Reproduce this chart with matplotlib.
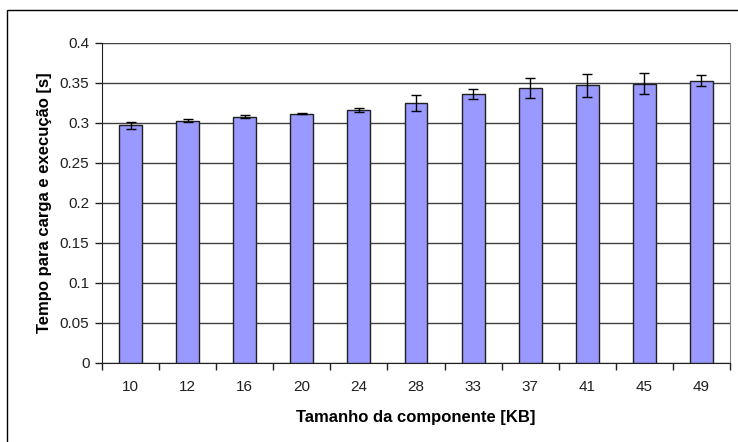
import matplotlib
matplotlib.use("Agg")
import matplotlib.pyplot as plt
import numpy as np
from matplotlib.patches import Rectangle

plt.rcParams['font.family'] = ['Liberation Sans', 'DejaVu Sans']

# Data
sizes = ['10', '12', '16', '20', '24', '28', '33', '37', '41', '45', '49']
times = [0.297, 0.303, 0.308, 0.3115, 0.316, 0.325, 0.336, 0.344, 0.347, 0.349, 0.353]
errors = [0.0048, 0.0023, 0.0017, 0.0007, 0.0027, 0.0104, 0.0063, 0.0125, 0.0144, 0.0133, 0.0073]
y_ticks = [0, 0.05, 0.1, 0.15, 0.2, 0.25, 0.3, 0.35, 0.4]
y_labels = ['0', '0.05', '0.1', '0.15', '0.2', '0.25', '0.3', '0.35', '0.4']

fig = plt.figure(figsize=(7.38, 4.42), dpi=100)
ax = fig.add_axes([102 / 738, 1 - 363 / 442, 628 / 738, 320 / 442])

x = np.arange(len(sizes))
ax.bar(x, times, width=0.4, color='#9999FF', edgecolor='#202020', linewidth=1,
       yerr=errors, capsize=3.5, error_kw=dict(ecolor='black', elinewidth=1, capthick=1),
       zorder=3)

ax.set_xlim(-0.5, len(sizes) - 0.5)
ax.set_ylim(0, 0.4)
ax.set_yticks(y_ticks)
ax.set_yticklabels(y_labels)
ax.set_xticks(x)
ax.set_xticklabels(sizes)
ax.set_xticks(np.arange(len(sizes) + 1) - 0.5, minor=True)

ax.grid(axis='y', color='#404040', linewidth=1, zorder=0)
ax.tick_params(axis='x', which='major', length=0, pad=12.5, labelsize=11, colors='#202020')
ax.tick_params(axis='x', which='minor', length=5, width=1, direction='out', color='#202020')
ax.tick_params(axis='y', length=5, width=1, direction='out', pad=4, labelsize=11,
               colors='#202020')

ax.spines['top'].set_visible(False)
ax.spines['right'].set_color('#808080')
ax.spines['left'].set_color('#202020')
ax.spines['bottom'].set_color('#202020')

ax.set_xlabel('Tamanho da componente [KB]', fontsize=12, fontweight='bold', labelpad=11)
ax.set_ylabel('Tempo para carga e execução [s]', fontsize=12, fontweight='bold', labelpad=6)

# outer chart border (right and bottom edges fall outside the image)
fig.patches.append(Rectangle((7 / 738, -0.1), 1.2, 1 - 10 / 442 + 0.1,
                             transform=fig.transFigure, fill=False,
                             edgecolor='black', linewidth=1))

fig.savefig('out.png', dpi=100)
